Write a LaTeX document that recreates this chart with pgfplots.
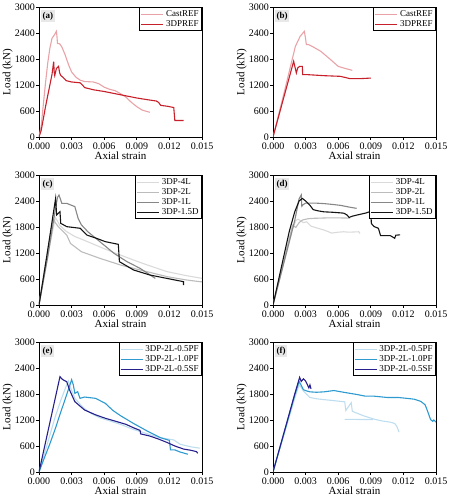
\documentclass[border=0pt]{standalone}
\usepackage{fontspec}
\setmainfont{Liberation Serif}
\usepackage{pgfplots}
\pgfplotsset{compat=1.18}
\definecolor{castref}{RGB}{233,163,168}
\definecolor{dpref}{RGB}{200,32,42}
\definecolor{gA}{RGB}{218,218,218}
\definecolor{gB}{RGB}{188,188,188}
\definecolor{gC}{RGB}{135,135,135}
\definecolor{gD}{RGB}{20,20,20}
\definecolor{bA}{RGB}{190,222,240}
\definecolor{bB}{RGB}{46,154,208}
\definecolor{bC}{RGB}{38,32,140}
\pgfplotsset{
  panel/.style={
    scale only axis, width=163pt, height=130pt, anchor=south west,
    xmin=0, xmax=0.015, ymin=0, ymax=3000,
    xtick={0,0.003,0.006,0.009,0.012,0.015},
    ytick={0,600,1200,1800,2400,3000},
    scaled x ticks=false,
    /pgf/number format/assume math mode=true,
    ticklabel style={font=\fontsize{10}{10}\selectfont, inner sep=1pt},
    xticklabel style={yshift=-1.5pt, /pgf/number format/.cd,fixed,fixed zerofill,precision=3},
    yticklabel style={/pgf/number format/.cd,fixed,1000 sep={}},
    tick pos=left, tick align=outside, major tick length=3pt,
    axis line style={line width=0.8pt}, tick style={line width=0.7pt, black},
    xlabel={Axial strain}, ylabel={Load (kN)},
    label style={font=\fontsize{11}{11}\selectfont},
    xlabel style={inner sep=1pt}, ylabel style={inner sep=1pt},
    legend style={at={(1,1)}, anchor=north east, draw=black, line width=0.9pt,
      font=\fontsize{9}{9}\selectfont, inner sep=1pt, row sep=-1.5pt,
      nodes={inner sep=2pt}},
    legend cell align=left,
    legend image code/.code={\draw[#1] (0pt,0pt) -- (22pt,0pt);},
    every axis plot/.append style={line width=1.1pt},
  },
}
\newcommand{\plabel}[1]{\node[anchor=north west, fill=gray!18, inner sep=1.5pt, font=\fontsize{9}{9}\selectfont\bfseries] at (rel axis cs:0.012,0.975) {#1};}
\begin{document}
\begin{tikzpicture}
\useasboundingbox (0,0) rectangle (449pt,500pt);
% (a)
\begin{axis}[panel, at={(39pt,363pt)}]
\addplot[castref] coordinates {(0,0)(0.0002,250)(0.0004,750)(0.0006,1250)(0.0008,1700)(0.001,2050)(0.0012,2280)(0.0014,2350)(0.0016,2440)(0.00165,2330)(0.0017,2160)(0.0019,2150)(0.0021,2080)(0.0024,1900)(0.0027,1680)(0.003,1500)(0.0034,1380)(0.0038,1310)(0.0042,1280)(0.005,1270)(0.0055,1230)(0.006,1150)(0.0065,1100)(0.007,1070)(0.0075,1000)(0.008,920)(0.0085,800)(0.009,700)(0.0095,620)(0.0102,570)};
\addplot[dpref] coordinates {(0,0)(0.0002,150)(0.0004,420)(0.0006,700)(0.0008,950)(0.001,1200)(0.0012,1450)(0.00135,1740)(0.0014,1500)(0.00145,1420)(0.0016,1580)(0.0018,1630)(0.0019,1480)(0.002,1420)(0.0022,1380)(0.0025,1300)(0.003,1270)(0.0038,1250)(0.004,1200)(0.0042,1140)(0.005,1090)(0.006,1050)(0.007,1000)(0.008,950)(0.009,900)(0.01,860)(0.0108,830)(0.011,800)(0.0112,730)(0.0118,710)(0.0124,680)(0.0125,380)(0.0133,380)};
\legend{CastREF,3DPREF}
\plabel{(a)}
\end{axis}
% (b)
\begin{axis}[panel, at={(273pt,363pt)}]
\addplot[castref] coordinates {(0,0)(0.001,1000)(0.00206,2092)(0.0025,2323)(0.00288,2438)(0.00298,2300)(0.00307,2130)(0.0033,2130)(0.0036,2092)(0.0044,1977)(0.0053,1785)(0.006,1630)(0.0065,1592)(0.0073,1538)};
\addplot[dpref] coordinates {(0,0)(0.001,920)(0.0019,1746)(0.00215,1477)(0.00227,1592)(0.00245,1630)(0.0027,1630)(0.00273,1440)(0.0031,1440)(0.0047,1415)(0.0062,1400)(0.0071,1346)(0.008,1346)(0.009,1360)};
\legend{CastREF,3DPREF}
\plabel{(b)}
\end{axis}
% (c)
\begin{axis}[panel, at={(39pt,195pt)}]
\addplot[gA] coordinates {(0,0)(0.0007,1000)(0.0015,2020)(0.0017,1940)(0.0019,1840)(0.0025,1700)(0.0033,1580)(0.0041,1500)(0.0058,1320)(0.007,1200)(0.0087,1038)(0.01,920)(0.0118,769)(0.0135,680)(0.015,615)};
\addplot[gB] coordinates {(0,0)(0.0006,950)(0.0013,2000)(0.0015,1900)(0.0018,1800)(0.00255,1615)(0.0029,1420)(0.0039,1230)(0.0056,1077)(0.0075,923)(0.0093,808)(0.0118,654)(0.0135,580)(0.0148,538)(0.015,535)};
\addplot[gC] coordinates {(0,0)(0.0008,1100)(0.0015,2200)(0.0017,2480)(0.00184,2538)(0.0021,2346)(0.00255,2346)(0.0033,2270)(0.0036,2000)(0.0039,1850)(0.0045,1690)(0.0056,1462)(0.0069,1192)(0.0081,1000)(0.0093,846)(0.0107,615)};
\addplot[gD] coordinates {(0,0)(0.0007,1100)(0.0014,2250)(0.00153,2462)(0.00162,2077)(0.00193,2154)(0.002,1885)(0.00255,1808)(0.0038,1770)(0.0044,1615)(0.0053,1538)(0.0061,1462)(0.0073,1400)(0.0074,1000)(0.0087,808)(0.0102,692)(0.0133,538)(0.0133,460)};
\legend{3DP-4L,3DP-2L,3DP-1L,3DP-1.5D}
\plabel{(c)}
\end{axis}
% (d)
\begin{axis}[panel, at={(273pt,195pt)}]
\addplot[gA] coordinates {(0,0)(0.0018,1750)(0.0021,1950)(0.0023,1980)(0.0025,1950)(0.0028,1900)(0.0031,1920)(0.0035,1820)(0.004,1780)(0.0047,1730)(0.0054,1660)(0.006,1680)(0.0065,1690)(0.007,1680)(0.0079,1690)(0.008,1650)};
\addplot[gB] coordinates {(0,0)(0.0018,1840)(0.0021,1790)(0.0024,1900)(0.0027,1960)(0.0032,1990)(0.0037,2000)(0.005,2010)(0.006,2010)(0.0071,2005)};
\addplot[gC] coordinates {(0,0)(0.002,1950)(0.0024,2450)(0.0026,2540)(0.00265,2280)(0.0028,2320)(0.003,2350)(0.004,2350)(0.0047,2340)(0.0055,2320)(0.0062,2300)(0.007,2260)(0.0077,2230)};
\addplot[gD] coordinates {(0,0)(0.0015,1700)(0.002,2150)(0.0024,2400)(0.0027,2460)(0.003,2400)(0.0034,2300)(0.0037,2200)(0.0042,2170)(0.0047,2150)(0.0055,2140)(0.0065,2120)(0.0068,2080)(0.007,2020)(0.0073,2050)(0.0078,2080)(0.0085,2120)(0.009,2160)(0.00905,1880)(0.0093,1810)(0.0097,1770)(0.0099,1600)(0.0108,1600)(0.0112,1540)(0.0113,1610)(0.0117,1620)};
\legend{3DP-4L,3DP-2L,3DP-1L,3DP-1.5D}
\plabel{(d)}
\end{axis}
% (e)
\begin{axis}[panel, at={(39pt,28pt)}]
\addplot[bA] coordinates {(0,0)(0.0005,420)(0.001,850)(0.0015,1280)(0.002,1650)(0.0025,1980)(0.0027,2100)(0.0029,1950)(0.0033,1700)(0.0038,1560)(0.0042,1460)(0.0048,1350)(0.0056,1250)(0.0065,1180)(0.0075,1100)(0.0087,980)(0.01,880)(0.011,800)(0.0124,740)(0.013,640)(0.014,580)(0.0148,550)};
\addplot[bB] coordinates {(0,0)(0.0005,330)(0.001,650)(0.0015,1000)(0.002,1380)(0.0025,1750)(0.003,2130)(0.00316,2008)(0.0033,1815)(0.00356,1854)(0.00377,1700)(0.0042,1730)(0.0052,1700)(0.0061,1585)(0.0068,1420)(0.0075,1300)(0.0087,1120)(0.01,940)(0.0112,790)(0.012,730)(0.0121,510)(0.0125,510)(0.013,460)(0.0137,410)};
\addplot[bC] coordinates {(0,0)(0.0005,570)(0.001,1140)(0.0015,1710)(0.00193,2200)(0.0021,2150)(0.00224,2123)(0.00255,2085)(0.0028,1900)(0.0033,1623)(0.0042,1430)(0.0052,1320)(0.0061,1240)(0.0072,1160)(0.008,1100)(0.0087,1020)(0.0093,960)(0.00935,880)(0.0102,830)(0.011,760)(0.0118,680)(0.0125,600)(0.0133,530)(0.014,500)(0.0145,470)(0.0146,430)};
\legend{3DP-2L-0.5PF,3DP-2L-1.0PF,3DP-2L-0.5SF}
\plabel{(e)}
\end{axis}
% (f)
\begin{axis}[panel, at={(273pt,28pt)}]
\addplot[bA] coordinates {(0,0)(0.001,850)(0.002,1700)(0.0024,2010)(0.0026,1950)(0.0028,1870)(0.0031,1790)(0.0034,1720)(0.004,1690)(0.0047,1670)(0.0055,1650)(0.0062,1630)(0.0066,1620)(0.0067,1420)(0.0072,1600)(0.0073,1400)(0.0083,1300)(0.0093,1220)(0.01,1180)(0.0108,1150)(0.0112,1120)(0.0114,1050)(0.0116,920)};
\addplot[bB] coordinates {(0,0)(0.001,880)(0.002,1770)(0.0024,2090)(0.0026,2000)(0.0028,1900)(0.0031,1870)(0.0034,1850)(0.004,1840)(0.0047,1850)(0.0056,1880)(0.0065,1840)(0.0077,1790)(0.0085,1750)(0.0093,1750)(0.0105,1720)(0.0115,1720)(0.0123,1700)(0.013,1680)(0.0136,1630)(0.014,1550)(0.0142,1420)(0.0145,1210)(0.0147,1170)(0.0148,1200)(0.015,1150)};
\addplot[bC] coordinates {(0,0)(0.001,900)(0.002,1800)(0.00245,2185)(0.0026,2090)(0.0028,2150)(0.003,2100)(0.0031,2050)(0.0033,1940)(0.0034,2010)(0.0035,1920)};
\addplot[bA, forget plot] coordinates {(0.0066,1215)(0.0092,1210)};
\legend{3DP-2L-0.5PF,3DP-2L-1.0PF,3DP-2L-0.5SF}
\plabel{(f)}
\end{axis}
\end{tikzpicture}
\end{document}
